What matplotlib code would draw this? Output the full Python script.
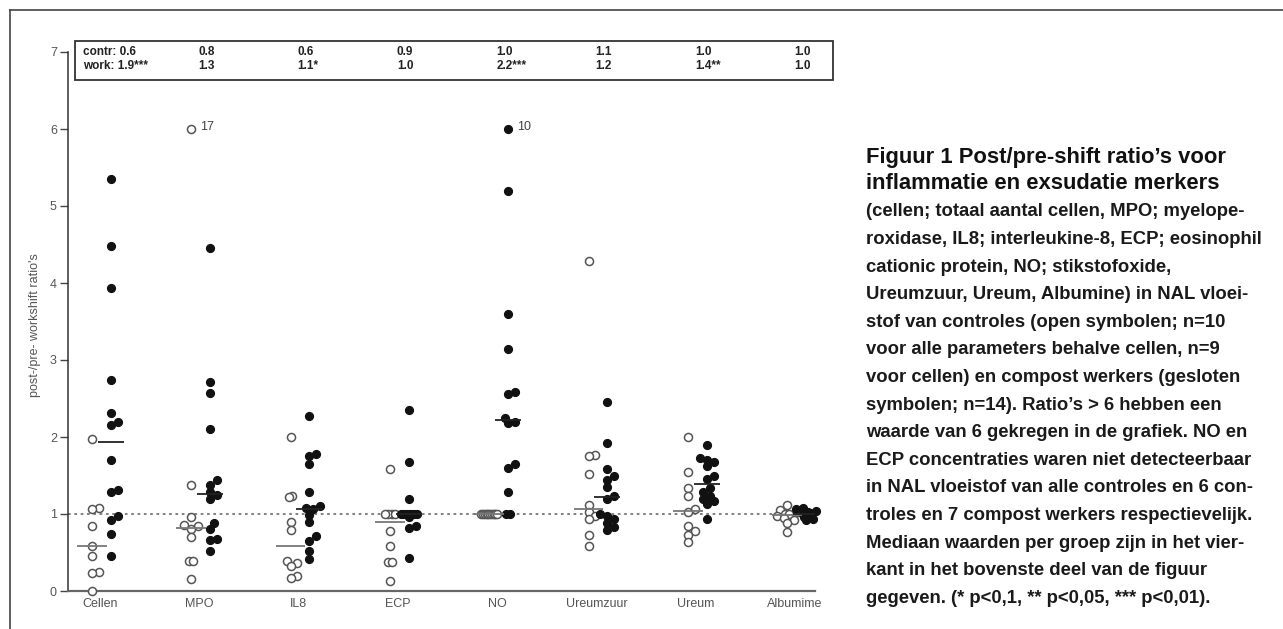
import numpy as np
import matplotlib
matplotlib.use("Agg")
from matplotlib import pyplot as plt
from matplotlib.patches import Rectangle
from matplotlib.lines import Line2D

plt.rcParams['font.family'] = ['Liberation Sans', 'DejaVu Sans']

# data
markers = ['Cellen', 'MPO', 'IL8', 'ECP', 'NO', 'Ureumzuur', 'Ureum', 'Albumime']

contr = [
    [1.97, 1.08, 1.06, 0.85, 0.58, 0.46, 0.25, 0.23, 0.0],
    [6.0, 1.38, 0.96, 0.86, 0.84, 0.80, 0.70, 0.39, 0.39, 0.15],
    [2.0, 1.23, 1.22, 0.89, 0.79, 0.39, 0.37, 0.32, 0.19, 0.17],
    [1.58, 1.0, 1.0, 1.0, 1.0, 0.78, 0.58, 0.38, 0.38, 0.13],
    [1.0, 1.0, 1.0, 1.0, 1.0, 1.0, 1.0, 1.0, 1.0, 1.0],
    [4.28, 1.77, 1.75, 1.52, 1.12, 1.02, 0.97, 0.94, 0.73, 0.59],
    [2.0, 1.54, 1.34, 1.24, 1.06, 1.02, 0.84, 0.78, 0.73, 0.64],
    [1.12, 1.05, 1.02, 1.0, 1.0, 0.98, 0.95, 0.92, 0.88, 0.76],
]
work = [
    [5.35, 4.48, 3.94, 2.74, 2.31, 2.20, 2.16, 1.70, 1.31, 1.29, 0.97, 0.92, 0.74, 0.45],
    [4.46, 2.71, 2.57, 2.10, 1.44, 1.38, 1.28, 1.25, 1.20, 0.88, 0.81, 0.68, 0.66, 0.52],
    [2.27, 1.78, 1.75, 1.65, 1.28, 1.10, 1.08, 1.06, 0.99, 0.89, 0.71, 0.65, 0.52, 0.42],
    [2.35, 1.67, 1.19, 1.0, 1.0, 1.0, 1.0, 1.0, 1.0, 1.0, 0.96, 0.85, 0.82, 0.43],
    [6.0, 5.2, 3.6, 3.14, 2.59, 2.56, 2.25, 2.20, 2.18, 1.65, 1.60, 1.28, 1.0, 1.0],
    [2.45, 1.92, 1.58, 1.50, 1.44, 1.35, 1.24, 1.20, 1.0, 0.97, 0.93, 0.88, 0.83, 0.79],
    [1.90, 1.73, 1.70, 1.67, 1.62, 1.50, 1.45, 1.34, 1.28, 1.24, 1.20, 1.17, 1.13, 0.94],
    [1.08, 1.06, 1.04, 1.03, 1.02, 1.01, 1.0, 1.0, 0.99, 0.98, 0.97, 0.96, 0.94, 0.92],
]
contr_med = ['0.6', '0.8', '0.6', '0.9', '1.0', '1.1', '1.0', '1.0']
work_med = ['1.9***', '1.3', '1.1*', '1.0', '2.2***', '1.2', '1.4**', '1.0']
outlier_labels = [(1, 'contr', '17'), (4, 'work', '10')]

caption_title = ['Figuur 1 Post/pre-shift ratio\u2019s voor',
                 'inflammatie en exsudatie merkers']
caption_body = [
    '(cellen; totaal aantal cellen, MPO; myelope-',
    'roxidase, IL8; interleukine-8, ECP; eosinophil',
    'cationic protein, NO; stikstofoxide,',
    'Ureumzuur, Ureum, Albumine) in NAL vloei-',
    'stof van controles (open symbolen; n=10',
    'voor alle parameters behalve cellen, n=9',
    'voor cellen) en compost werkers (gesloten',
    'symbolen; n=14). Ratio\u2019s > 6 hebben een',
    'waarde van 6 gekregen in de grafiek. NO en',
    'ECP concentraties waren niet detecteerbaar',
    'in NAL vloeistof van alle controles en 6 con-',
    'troles en 7 compost werkers respectievelijk.',
    'Mediaan waarden per groep zijn in het vier-',
    'kant in het bovenste deel van de figuur',
    'gegeven. (* p<0,1, ** p<0,05, *** p<0,01).',
]

PX_X, PX_Y = 99.3, 77.0   # pixels per data unit


def spread(vals, d=0.035, mind=6.0):
    # identical values pile up side by side, near values dodge sideways
    v = np.asarray(vals, dtype=float)
    offs = np.zeros(len(v))
    placed = []
    order = np.argsort(v)
    k = 0
    while k < len(order):
        j = k
        while j + 1 < len(order) and v[order[j + 1]] - v[order[k]] < 0.012:
            j += 1
        idx = order[k:j + 1]
        n = len(idx)
        if n > 1:
            s = min(d, 0.16 / (n - 1))
            offs[idx] = (np.arange(n) - (n - 1) / 2) * s
        else:
            best, bestd = 0.0, -1
            for c in [0, d, -d, 2 * d, -2 * d, 3 * d, -3 * d]:
                dist = min([np.hypot((c - px) * PX_X, (v[idx[0]] - py) * PX_Y)
                            for px, py in placed] + [99])
                if dist >= mind:
                    best = c
                    break
                if dist > bestd:
                    best, bestd = c, dist
            offs[idx] = best
        for t in idx:
            placed.append((offs[t], v[t]))
        k = j + 1
    return offs


W, H = 1283, 629
fig = plt.figure(figsize=(W / 100, H / 100), dpi=100)
ax = fig.add_axes([68 / W, 38 / H, (815 - 68) / W, (591 - 36.6) / H])

c_off, w_off = -0.08, 0.11
for i in range(len(markers)):
    xc = i + c_off + spread(contr[i])
    xw = i + w_off + spread(work[i])
    ax.plot(xc, contr[i], 'o', ms=5.8, mfc='white', mec='#555555', mew=1.1,
            ls='none', clip_on=False, zorder=3)
    ax.plot(xw, work[i], 'o', ms=5.8, mfc='#111111', mec='#111111', mew=0.8,
            ls='none', clip_on=False, zorder=3)
    ax.hlines(np.median(contr[i]), i + c_off - 0.15, i + c_off + 0.15,
              color='#777777', lw=1.3, zorder=4)
    ax.hlines(np.median(work[i]), i + w_off - 0.13, i + w_off + 0.13,
              color='#222222', lw=1.3, zorder=4)

for i, grp, lab in outlier_labels:
    vals = contr[i] if grp == 'contr' else work[i]
    off = c_off if grp == 'contr' else w_off
    ax.text(i + off + 0.09, max(vals) + 0.02, lab, fontsize=9, color='#444444',
            va='center', ha='left')

ax.axhline(1, color='#777777', ls=(0, (1.5, 2)), lw=1.3, zorder=1)

# median box
ax.add_patch(Rectangle((-0.252, 6.64), 7.63, 0.5, fill=False, ec='#333333',
                       lw=1.3, clip_on=False, transform=ax.transData))
box_kw = dict(fontsize=8.5, weight='bold', color='#222222', va='center', ha='left')
ax.text(-0.17, 7.0, 'contr: ' + contr_med[0], **box_kw)
ax.text(-0.17, 6.82, 'work: ' + work_med[0], **box_kw)
for i in range(1, len(markers)):
    ax.text(i - 0.01, 7.0, contr_med[i], **box_kw)
    ax.text(i - 0.01, 6.82, work_med[i], **box_kw)

ax.set_xlim(-0.32, 7.2)
ax.set_ylim(0, 7.2)
ax.spines['top'].set_visible(False)
ax.spines['right'].set_visible(False)
ax.spines['left'].set_bounds(0, 7)
ax.spines['left'].set_color('#333333')
ax.spines['left'].set_linewidth(1.1)
ax.spines['bottom'].set_color('#666666')
ax.spines['bottom'].set_linewidth(1.6)
ax.set_yticks(range(8))
ax.tick_params(axis='y', direction='out', length=6, width=1, color='#444444',
               labelsize=9, labelcolor='#555555', pad=2)
ax.set_xticks(range(len(markers)))
ax.set_xticklabels(markers)
ax.tick_params(axis='x', length=0, labelsize=9, labelcolor='#555555', pad=5)
ax.set_ylabel("post-/pre- workshift ratio's", fontsize=9, color='#555555')
ax.yaxis.set_label_coords(-0.036, 0.48)

# caption
x0 = 866 / W
for k, line in enumerate(caption_title):
    fig.text(x0, 1 - (158 + 26 * k) / H, line, fontsize=15.8, weight='bold',
             color='#111111', va='center', ha='left')
for k, line in enumerate(caption_body):
    fig.text(x0, 1 - (212 + 27.6 * k) / H, line, fontsize=13.3, weight='bold',
             color='#1a1a1a', va='center', ha='left')

# frame lines
fig.add_artist(Line2D([10 / W, 1], [1 - 10 / H, 1 - 10 / H], color='#444444', lw=1.2))
fig.add_artist(Line2D([10 / W, 10 / W], [0, 1 - 10 / H], color='#444444', lw=1.2))

fig.savefig('out.png', dpi=100, facecolor='white')
